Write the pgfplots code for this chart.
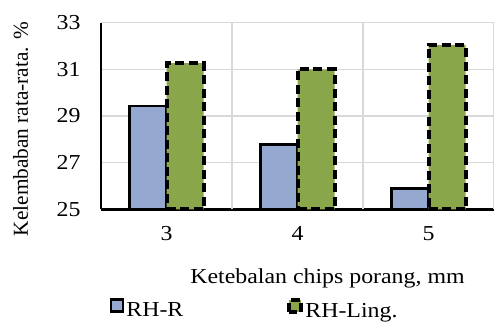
\documentclass[border=0pt]{standalone}
\usepackage{pgfplots}
\pgfplotsset{compat=1.18}
\usepackage{fontspec}
\setmainfont{Liberation Serif}[FakeStretch=1.12]
\newfontfamily\ylabfont{Liberation Serif}

\definecolor{rhr}{RGB}{149,168,207}
\definecolor{rhling}{RGB}{138,166,75}
\definecolor{gridgray}{RGB}{217,217,217}

\pgfplotsset{
  square legend/.style={
    legend image code/.code={\draw[##1] (0pt,-1pt) rectangle (12pt,11pt);}},
}

\begin{document}
\begin{tikzpicture}[font=\fontsize{21.3pt}{26pt}\selectfont]
\begin{axis}[
  scale only axis,
  width=393pt, height=186.6pt,
  xmin=2.5, xmax=5.5,
  ymin=25, ymax=33,
  xtick={3,4,5},
  ytick={25,27,29,31,33},
  extra x ticks={3.5,4.5,5.5},
  extra x tick labels={},
  extra x tick style={grid=major, major tick length=0pt},
  ymajorgrids=true,
  xmajorgrids=false,
  grid style={gridgray, line width=1.3pt},
  major tick length=0pt,
  axis x line*=bottom,
  axis y line*=left,
  axis line style={black, line width=2.6pt, -},
  /pgf/number format/assume math mode=true,
  xticklabel style={yshift=-13.5pt},
  yticklabel style={xshift=-17pt},
  xlabel={Ketebalan chips porang, mm},
  xlabel style={at={(axis description cs:0.5763,-0.3966)}, anchor=base},
  ylabel={\ylabfont Kelembaban rata-rata. \%},
  ylabel style={at={(axis description cs:-0.2043,0.43)}, anchor=center},
  legend columns=2,
  legend cell align=left,
  legend style={draw=none, fill=none, inner sep=0pt,
    at={(axis description cs:0.0221,-0.535)}, anchor=west,
    /tikz/every even column/.append style={column sep=102pt}},
]
\addplot[ybar, bar width=37pt, bar shift=-18.5pt,
  fill=rhr, draw=black, line width=2.5pt, square legend]
  coordinates {(3,29.43) (4,27.78) (5,25.89)};
\addlegendentry{RH-R}
\addplot[ybar, bar width=37pt, bar shift=18.5pt,
  fill=rhling, draw=black, line width=4pt, dash pattern=on 9pt off 4.5pt,
  square legend]
  coordinates {(3,31.27) (4,31.0) (5,32.05)};
\addlegendentry{RH-Ling.}
\end{axis}
\pgfresetboundingbox
\useasboundingbox (-101pt,-112.7pt) rectangle (393pt,209.3pt);
\end{tikzpicture}
\end{document}
